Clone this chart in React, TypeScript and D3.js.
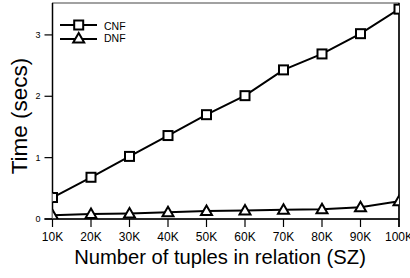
import React from "react";
import * as d3 from "d3";

const categories = ["10K", "20K", "30K", "40K", "50K", "60K", "70K", "80K", "90K", "100K"];
const cnfValues = [0.35, 0.68, 1.02, 1.36, 1.7, 2.01, 2.43, 2.69, 3.02, 3.42];
const dnfValues = [0.06, 0.08, 0.09, 0.11, 0.13, 0.14, 0.15, 0.16, 0.19, 0.29];
const yTicks = [0, 1, 2, 3];
const seriesNames = ["CNF", "DNF"];

const W = 410, H = 278;
const left = 52.5, right = 399, top = 3, bottom = 219;

export default function App() {
  const x = d3.scalePoint<string>().domain(categories).range([left, right]);
  const y = d3.scaleLinear().domain([0, 3.52]).range([bottom, top]);
  const line = d3.line<number>().x((_, i) => x(categories[i]) as number).y((d) => y(d));
  const font = "'Liberation Sans', Arial, Helvetica, sans-serif";

  const square = (cx: number, cy: number, key: string) => (
    <rect key={key} x={cx - 4.5} y={cy - 4.5} width={9} height={9} fill="#fff" stroke="#000" strokeWidth={2} />
  );
  const tri = (cx: number, cy: number, key: string) => (
    <path key={key} d={`M${cx},${cy - 5.5} L${cx + 5.5},${cy + 4} L${cx - 5.5},${cy + 4} Z`} fill="#fff" stroke="#000" strokeWidth={2} strokeLinejoin="miter" />
  );

  return (
    <svg width={W} height={H} style={{ position: "absolute", left: 0, top: 0, background: "#fff" }} fontFamily={font} fill="#000">
      <defs>
        <clipPath id="plotclip">
          <rect x={left} y={top} width={right - left} height={bottom - top} />
        </clipPath>
      </defs>
      <rect x={0} y={0} width={W} height={H} fill="#fff" />
      {/* frame */}
      <rect x={left} y={top} width={right - left} height={bottom - top} fill="none" stroke="#444" strokeWidth={1} />
      {/* axes */}
      <line x1={left} x2={left} y1={top} y2={bottom} stroke="#000" strokeWidth={1.5} />
      <line x1={left - 8} x2={right} y1={bottom} y2={bottom} stroke="#000" strokeWidth={1.5} />
      <line x1={right} x2={right} y1={top} y2={bottom + 8} stroke="#000" strokeWidth={1.5} />
      {yTicks.map((t) => (
        <g key={"y" + t}>
          <line x1={left - 8} x2={left} y1={y(t)} y2={y(t)} stroke="#000" strokeWidth={1.2} />
          <text x={left - 12} y={y(t) + 3} fontSize={9} textAnchor="end" fill="#000">{t}</text>
        </g>
      ))}
      {categories.map((c) => (
        <g key={"x" + c}>
          <line x1={x(c)} x2={x(c)} y1={bottom} y2={bottom + 8} stroke="#000" strokeWidth={1.2} />
          <text x={x(c)} y={241} fontSize={12} textAnchor="middle" fill="#000">{c}</text>
        </g>
      ))}
      <text x={220} y={264} fontSize={20.2} textAnchor="middle" fill="#000">Number of tuples in relation (SZ)</text>
      <text transform={`translate(27,116) rotate(-90)`} fontSize={22.5} textAnchor="middle" fill="#000">Time (secs)</text>
      <g clipPath="url(#plotclip)">
        <path d={line(cnfValues) || ""} fill="none" stroke="#000" strokeWidth={2} />
        <path d={line(dnfValues) || ""} fill="none" stroke="#000" strokeWidth={2} />
        {cnfValues.map((v, i) => square(x(categories[i]) as number, y(v), "c" + i))}
        {dnfValues.map((v, i) => tri(x(categories[i]) as number, y(v), "d" + i))}
      </g>
      {/* legend */}
      <line x1={60} x2={97} y1={25} y2={25} stroke="#000" strokeWidth={2} />
      {square(78.7, 25, "lc")}
      <text x={104} y={29.5} fontSize={10.5} fill="#000">{seriesNames[0]}</text>
      <line x1={60} x2={97} y1={39} y2={39} stroke="#000" strokeWidth={2} />
      {tri(78.7, 38.5, "ld")}
      <text x={104} y={41.8} fontSize={10.5} fill="#000">{seriesNames[1]}</text>
    </svg>
  );
}
